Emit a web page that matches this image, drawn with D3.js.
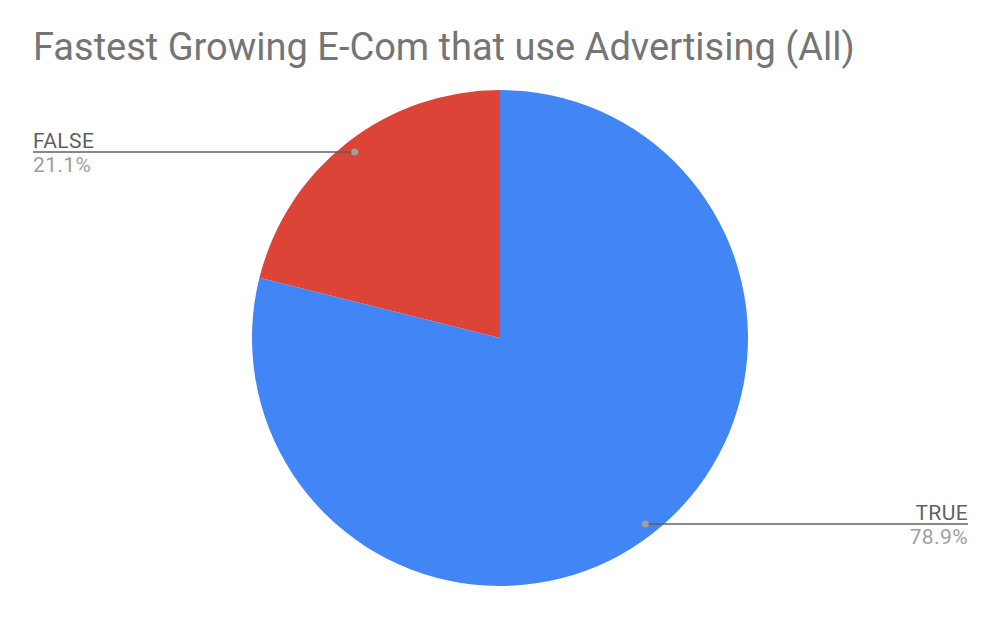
<!DOCTYPE html>
<html>
<head>
<meta charset="utf-8">
<script src="https://cdn.jsdelivr.net/npm/d3@7"></script>
<style>
  body { margin: 0; background: #fff; }
  text { font-family: Roboto, "Noto Sans", sans-serif; }
</style>
</head>
<body>
<div id="chart"></div>
<script>
// data
var labels = ["TRUE", "FALSE"];
var values = [78.9, 21.1];
var colors = ["#4285f4", "#db4437"];

var width = 1000, height = 617;
var cx = 500, cy = 338, r = 248;

var svg = d3.select("#chart")
    .append("svg")
    .attr("width", width)
    .attr("height", height);

// title
svg.append("text")
    .attr("x", 33)
    .attr("y", 60)
    .attr("fill", "#757575")
    .style("font-size", "38px")
    .text("Fastest Growing E-Com that use Advertising (All)");

var data = labels.map(function (d, i) { return { label: d, value: values[i], color: colors[i] }; });

var pie = d3.pie().sort(null).value(function (d) { return d.value; });
var arcs = pie(data);

var arc = d3.arc().innerRadius(0).outerRadius(r);

var g = svg.append("g")
    .attr("transform", "translate(" + cx + "," + cy + ")");

g.selectAll("path")
    .data(arcs)
    .enter()
    .append("path")
    .attr("d", arc)
    .attr("fill", function (d) { return d.data.color; });

// leader lines + labels
var k = r * 0.952;
arcs.forEach(function (a) {
    var mid = (a.startAngle + a.endAngle) / 2;
    var px = cx + k * Math.sin(mid);
    var py = cy - k * Math.cos(mid);
    var right = Math.sin(mid) > 0;
    var endX = right ? 968 : 33;

    svg.append("line")
        .attr("x1", px).attr("y1", py)
        .attr("x2", endX).attr("y2", py)
        .attr("stroke", "#616161")
        .attr("stroke-width", 1.5);

    svg.append("circle")
        .attr("cx", px).attr("cy", py)
        .attr("r", 3.5)
        .attr("fill", "#9e9e9e");

    svg.append("text")
        .attr("x", endX)
        .attr("y", py - 4)
        .attr("text-anchor", right ? "end" : "start")
        .attr("fill", "#616161")
        .style("font-size", "21px")
        .style("letter-spacing", "0.4px")
        .text(a.data.label);

    svg.append("text")
        .attr("x", endX)
        .attr("y", py + 20)
        .attr("text-anchor", right ? "end" : "start")
        .attr("fill", "#9e9e9e")
        .style("font-size", "21px")
        .style("letter-spacing", "0.4px")
        .text(a.data.value.toFixed(1) + "%");
});
</script>
</body>
</html>
